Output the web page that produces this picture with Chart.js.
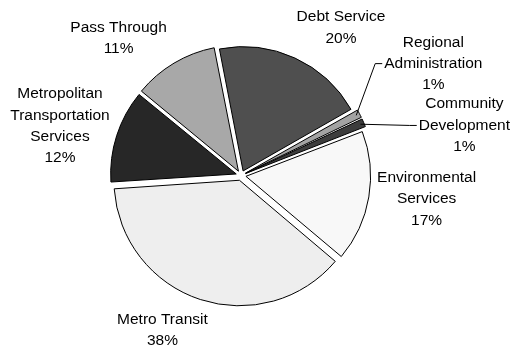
<!DOCTYPE html>
<html>
<head>
<meta charset="utf-8">
<script src="https://cdn.jsdelivr.net/npm/chart.js@4.4.7/dist/chart.umd.min.js"></script>
<style>
  html, body { margin: 0; padding: 0; background: #fff; }
  #wrap { width: 511px; height: 347px; position: relative; }
</style>
</head>
<body>
<div id="wrap"><canvas id="pieChart"></canvas></div>
<script>
// ===== データ =====
const categories = [
  ['Debt Service'],
  ['Regional', 'Administration'],
  ['Community', 'Development'],
  ['Environmental', 'Services'],
  ['Metro Transit'],
  ['Metropolitan', 'Transportation', 'Services'],
  ['Pass Through']
];
const seriesValues = [19.8, 1.2, 1.2, 17.0, 37.8, 12.0, 11.0];
const sliceColors = ['#4f4f4f', '#a3a3a3', '#3d3d3d', '#f8f8f8', '#eeeeee', '#272727', '#a8a8a8'];

// ===== ラベル（外側配置） =====
const outsideLabels = {
  id: 'outsideLabels',
  afterDatasetsDraw(chart, args, opts) {
    const ctx = chart.ctx;
    const meta = chart.getDatasetMeta(0);
    const total = seriesValues.reduce((a, b) => a + b, 0);
    const clamp = v => Math.max(-1, Math.min(1, v));
    ctx.save();
    ctx.font = opts.font;
    ctx.fillStyle = '#000';
    ctx.strokeStyle = '#000';
    ctx.lineWidth = 1;
    ctx.textAlign = 'center';
    ctx.textBaseline = 'middle';
    meta.data.forEach((arc, i) => {
      const lines = categories[i].concat(Math.round(seriesValues[i] / total * 100) + '%');
      const mid = (arc.startAngle + arc.endAngle) / 2;
      const dx = Math.cos(mid), dy = Math.sin(mid);
      const r = arc.outerRadius + opts.gap;
      const ax = arc.x + dx * r, ay = arc.y + dy * r;
      const w = Math.max(...lines.map(l => ctx.measureText(l).width));
      const h = lines.length * opts.lineHeight;
      const n = opts.nudge[i] || [0, 0];
      const cx = ax + clamp(2 * dx) * w / 2 + n[0];
      const cy = ay + clamp(2 * dy) * h / 2 + n[1];
      const top = cy - h / 2 + opts.lineHeight / 2;
      lines.forEach((l, j) => ctx.fillText(l, cx, top + j * opts.lineHeight));

      if (opts.leader[i]) {
        const er = arc.outerRadius + 6;
        const ex = arc.x + dx * er, ey = arc.y + dy * er;
        const rowY = top + opts.leader[i] * opts.lineHeight;
        const xl = cx - ctx.measureText(lines[opts.leader[i]]).width / 2;
        ctx.beginPath();
        ctx.moveTo(ex, ey);
        ctx.lineTo(xl - 9, rowY);
        ctx.lineTo(xl - 2, rowY);
        ctx.stroke();
      }
    });
    ctx.restore();
  }
};

// ===== 円グラフ =====
function createPieChart() {
  const ctx = document.getElementById('pieChart').getContext('2d');
  new Chart(ctx, {
    type: 'pie',
    data: {
      labels: categories,
      datasets: [{
        data: seriesValues,
        backgroundColor: sliceColors,
        borderColor: '#000',
        borderWidth: 1,
        offset: 20
      }]
    },
    options: {
      responsive: true,
      maintainAspectRatio: false,
      animation: false,
      rotation: -11,
      layout: { padding: { left: 101, right: 130, top: 41, bottom: 37 } },
      plugins: {
        legend: { display: false },
        tooltip: { enabled: false },
        outsideLabels: {
          font: '15.5px "Liberation Sans", Arial, sans-serif',
          lineHeight: 21.3,
          gap: 15,
          nudge: [[5, 0], [20, -18], [50, 30], [-1, -10], [-7, 1], [1, 19], [-3, 3.5]],
          leader: [0, 1, 1, 0, 0, 0, 0]
        }
      }
    },
    plugins: [outsideLabels]
  });
}

createPieChart();
</script>
</body>
</html>
